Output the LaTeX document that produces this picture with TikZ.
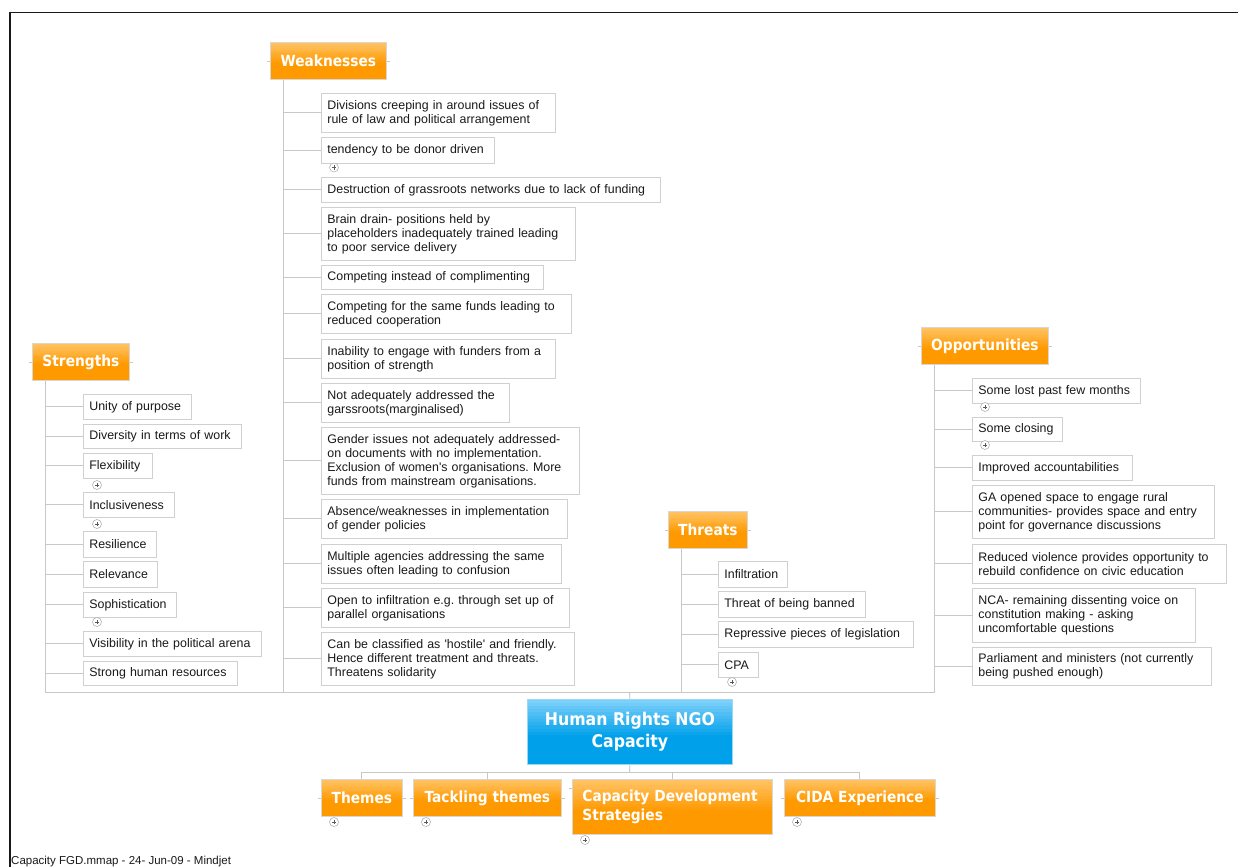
\documentclass[tikz,border=0pt]{standalone}
\usepackage{fontspec}
\usetikzlibrary{calc}
\setmainfont{Liberation Sans}
\newfontfamily\hdrfam{DejaVu Sans Condensed}
\definecolor{connc}{RGB}{200,200,200}
\definecolor{boxc}{RGB}{208,208,208}
\definecolor{orT}{RGB}{255,195,100}
\definecolor{orB}{RGB}{255,153,0}
\definecolor{blT}{RGB}{125,208,250}
\definecolor{blB}{RGB}{0,160,234}
\definecolor{hdrb}{RGB}{218,214,208}
\definecolor{txt}{RGB}{25,25,25}
\newcommand\leaffont{\fontsize{12.4}{14}\selectfont}
\newcommand\hdrfont{\hdrfam\bfseries\fontsize{15.3}{19}\selectfont}
\newcommand\ctrfont{\hdrfam\bfseries\fontsize{17.5}{21.5}\selectfont}
\newcommand\sq{\textquotesingle}
\tikzset{
  topfade/.style 2 args={path picture={
    \foreach \k in {0,...,11} {
      \pgfmathsetmacro\pc{\k*100/11}
      \fill[#2!\pc!#1] ($(path picture bounding box.north west)!{\k/20}!(path picture bounding box.south west)$)
        rectangle ($(path picture bounding box.north east)!{(\k+1)/20+0.01}!(path picture bounding box.south east)$);
    }}},
  leaf/.style={draw=boxc, fill=white, line width=0.8pt, anchor=north west, inner xsep=6pt, inner ysep=0pt, align=left, font=\leaffont, text=txt},
  hdr/.style={draw=hdrb, line width=0.8pt, fill=orB, topfade={orT}{orB}, text=white, font=\hdrfont, anchor=north west, inner sep=0pt, align=center},
  ctr/.style={draw=blB!40, line width=0.8pt, fill=blB, topfade={blT}{blB}, text=white, font=\ctrfont, anchor=north west, inner sep=0pt, align=center},
  conn/.style={draw=connc, line width=0.9pt},
  stub/.style={draw=connc, line width=0.7pt},
  plus/.style={circle, draw=black!30, fill=white, minimum size=9pt, inner sep=0pt, line width=0.6pt,
    path picture={\draw[line width=0.6pt, black!65]
      ([xshift=-2.2pt]path picture bounding box.center) -- ([xshift=2.2pt]path picture bounding box.center)
      ([yshift=-2.2pt]path picture bounding box.center) -- ([yshift=2.2pt]path picture bounding box.center);}},
  frame/.style={draw=black!90, line width=1.6pt}
}
\newcommand\leafbox[6]{\pgfmathsetmacro\lw{#4-12}\node[leaf, minimum width=#4pt, minimum height=#5pt, text width=\lw pt] (#1) at (#2,#3) {#6};}
\frenchspacing
\begin{document}
\frenchspacing
\begin{tikzpicture}[x=1pt,y=-1pt]
\useasboundingbox (0,0) rectangle (1238,867);
\clip (0,0) rectangle (1238,867);
\fill[white] (0,0) rectangle (1238,867);
% page frame
\draw[frame] (9,12.5) -- (1238,12.5);
\draw[frame] (10,12) -- (10,867);
\node[anchor=base west, font=\fontsize{11.5}{13}\selectfont, inner sep=0pt, text=txt] (footer) at (11,864) {Capacity FGD.mmap - 24- Jun-09 - Mindjet};

% headers
\node[hdr, minimum width=116pt, minimum height=37pt] (wh) at (270,42) {Weaknesses};
\node[hdr, minimum width=97pt, minimum height=37pt] (sh) at (32,343) {Strengths};
\node[hdr, minimum width=79pt, minimum height=37pt] (th) at (668,511) {Threats};
\node[hdr, minimum width=127pt, minimum height=37pt] (oh) at (921,327) {Opportunities};
\node[ctr, minimum width=205pt, minimum height=65pt] (ctr) at (527,699) {Human Rights NGO\\Capacity};
\node[hdr, minimum width=81pt, minimum height=37pt] (b1) at (321,779) {Themes};
\node[hdr, minimum width=148pt, minimum height=37pt] (b2) at (413,779) {Tackling themes};
\node[hdr, minimum width=200pt, minimum height=55pt, align=left, text width=180pt] (b3) at (572,779) {Capacity Development\\Strategies};
\node[hdr, minimum width=151pt, minimum height=37pt] (b4) at (784,779) {CIDA Experience};

% small attachment stubs on headers
\foreach \h in {wh,sh,th,oh,b1,b2,b4} {\draw[stub] ([xshift=-3pt]\h.west) -- (\h.west) (\h.east) -- ([xshift=3pt]\h.east);}
\draw[stub] ([xshift=-3pt,yshift=-9pt]b3.north west) -- ([yshift=-9pt]b3.north west);

% weaknesses
\leafbox{w1}{321}{93}{234}{39}{Divisions creeping in around issues of\\rule of law and political arrangement}
\leafbox{w2}{321}{137}{173}{26}{tendency to be donor driven}
\leafbox{w3}{321}{177}{339}{25}{Destruction of grassroots networks due to lack of funding}
\leafbox{w4}{321}{207}{254}{53}{Brain drain- positions held by\\placeholders inadequately trained leading\\to poor service delivery}
\leafbox{w5}{321}{265}{222}{24}{Competing instead of complimenting}
\leafbox{w6}{321}{294}{250}{39}{Competing for the same funds leading to\\reduced cooperation}
\leafbox{w7}{321}{339}{234}{39}{Inability to engage with funders from a\\position of strength}
\leafbox{w8}{321}{383}{188}{39}{Not adequately addressed the\\garssroots(marginalised)}
\leafbox{w9}{321}{427}{258}{67}{Gender issues not adequately addressed-\\on documents with no implementation.\\Exclusion of women\sq s organisations. More\\funds from mainstream organisations.}
\leafbox{w10}{321}{499}{246}{39}{Absence/weaknesses in implementation\\of gender policies}
\leafbox{w11}{321}{544}{240}{39}{Multiple agencies addressing the same\\issues often leading to confusion}
\leafbox{w12}{321}{588}{248}{39}{Open to infiltration e.g. through set up of\\parallel organisations}
\leafbox{w13}{321}{632}{253}{53}{Can be classified as \sq hostile\sq{} and friendly.\\Hence different treatment and threats.\\Threatens solidarity}

% strengths
\leafbox{s1}{83}{394}{108}{25}{Unity of purpose}
\leafbox{s2}{83}{424}{158}{24}{Diversity in terms of work}
\leafbox{s3}{83}{453}{69}{25}{Flexibility}
\leafbox{s4}{83}{492}{91}{25}{Inclusiveness}
\leafbox{s5}{83}{531}{73}{26}{Resilience}
\leafbox{s6}{83}{561}{74}{26}{Relevance}
\leafbox{s7}{83}{592}{93}{25}{Sophistication}
\leafbox{s8}{83}{631}{178}{25}{Visibility in the political arena}
\leafbox{s9}{83}{661}{154}{24}{Strong human resources}

% threats
\leafbox{t1}{718}{561}{69}{26}{Infiltration}
\leafbox{t2}{718}{591}{147}{26}{Threat of being banned}
\leafbox{t3}{718}{621}{195}{26}{Repressive pieces of legislation}
\leafbox{t4}{718}{652}{40}{25}{CPA}

% opportunities
\leafbox{o1}{972}{378}{168}{25}{Some lost past few months}
\leafbox{o2}{972}{417}{90}{24}{Some closing}
\leafbox{o3}{972}{455}{160}{25}{Improved accountabilities}
\leafbox{o4}{972}{485}{242}{53}{GA opened space to engage rural\\communities- provides space and entry\\point for governance discussions}
\leafbox{o5}{972}{544}{254}{39}{Reduced violence provides opportunity to\\rebuild confidence on civic education}
\leafbox{o6}{972}{588}{223}{54}{NCA- remaining dissenting voice on\\constitution making - asking\\uncomfortable questions}
\leafbox{o7}{972}{647}{239}{38}{Parliament and ministers (not currently\\being pushed enough)}

% junction coordinates
\coordinate (jS) at (45,692);
\coordinate (jW) at (283,692);
\coordinate (jC) at (629.5,692);
\coordinate (jT) at (681,692);
\coordinate (jO) at (934,692);
\coordinate (jB) at (629.5,772);

% trunks
\draw[conn] (sh.south -| jS) -- (jS) -- (jO) -- (oh.south -| jO);
\draw[conn] (wh.south -| jW) -- (jW);
\draw[conn] (th.south -| jT) -- (jT);
\draw[conn] (ctr.north) -- (jC);

% branches
\foreach \i in {1,...,13} {\draw[conn] (jW |- w\i.west) -- (w\i.west);}
\foreach \i in {1,...,9} {\draw[conn] (jS |- s\i.west) -- (s\i.west);}
\foreach \i in {1,...,4} {\draw[conn] (jT |- t\i.west) -- (t\i.west);}
\foreach \i in {1,...,7} {\draw[conn] (jO |- o\i.west) -- (o\i.west);}

% bottom children
\draw[conn] (ctr.south) -- (jB);
\draw[conn] (b1.north |- jB) -- (b4.north |- jB);
\foreach \i in {1,...,4} {\draw[conn] (b\i.north |- jB) -- (b\i.north);}

% plus markers
\node[plus] (pw2) at (334,167.5) {};
\node[plus] (ps3) at (97,485) {};
\node[plus] (ps4) at (97,524) {};
\node[plus] (ps7) at (97,622) {};
\node[plus] (pt4) at (732,682) {};
\node[plus] (po1) at (985,407) {};
\node[plus] (po2) at (985,445) {};
\node[plus] (pb1) at (334,822) {};
\node[plus] (pb2) at (426,822) {};
\node[plus] (pb3) at (585,840) {};
\node[plus] (pb4) at (797,822) {};
\end{tikzpicture}
\end{document}
